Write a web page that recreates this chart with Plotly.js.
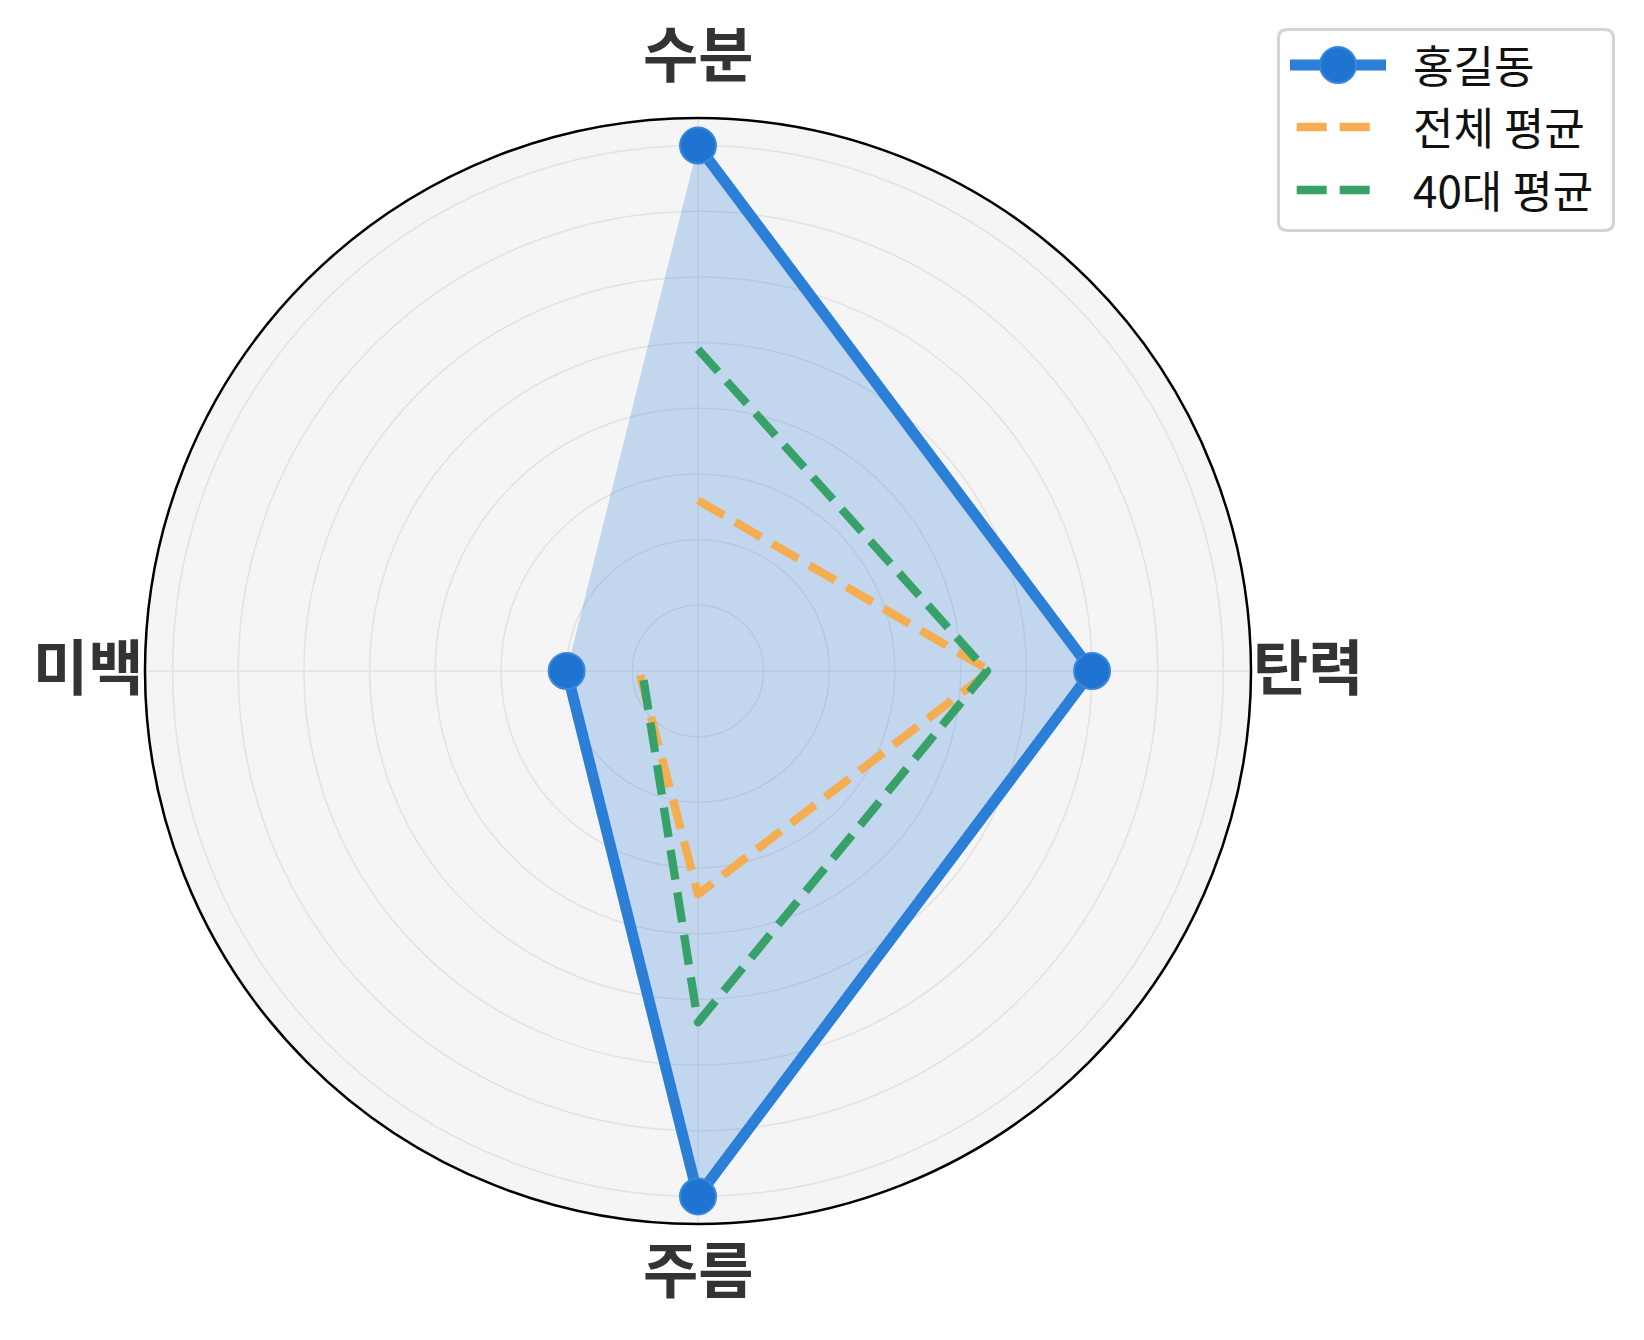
<!DOCTYPE html>
<html>
<head>
<meta charset="utf-8">
<script src="https://cdn.plot.ly/plotly-3.0.1.min.js"></script>
<style>
html, body { margin: 0; padding: 0; background: #ffffff; }
#chart { width: 1644px; height: 1340px; }
.scatterlayer .js-line { stroke-linejoin: round; }
</style>
</head>
<body>
<div id="chart"></div>
<script>
// ---- data ----
var categories = ['수분', '탄력', '주름', '미백'];
var seriesNames = ['홍길동', '전체 평균', '40대 평균'];
var hongValues = [80, 60, 80, 20];
var overallAvg = [26, 44.5, 34, 9];
var age40Avg = [49, 44, 53.5, 8.5];
var radialMax = 84.2;

// ---- style ----
var W = 1644, H = 1340;
var cx = 698, cy = 671, R = 553;
var blueLine = '#2B7FD6';
var blueMarker = '#1F74D2';
var orange = '#F5AD52';
var green = '#38A169';
var fontKR = '"Noto Sans CJK KR", "Noto Sans", sans-serif';

function px(x) { return x / W; }
function py(y) { return 1 - y / H; }

var traces = [
  {
    type: 'scatterpolar',
    r: hongValues,
    theta: categories,
    mode: 'lines',
    fill: 'toself',
    fillcolor: 'rgba(43,127,214,0.25)',
    line: { color: 'rgba(43,127,214,0.45)', width: 2.5 },
    showlegend: false,
    hoverinfo: 'skip'
  },
  {
    type: 'scatterpolar',
    name: seriesNames[1],
    r: overallAvg,
    theta: categories,
    mode: 'lines',
    line: { color: orange, width: 8.3, dash: '30px,13px' },
    showlegend: false,
    hoverinfo: 'skip'
  },
  {
    type: 'scatterpolar',
    name: seriesNames[2],
    r: age40Avg,
    theta: categories,
    mode: 'lines',
    line: { color: green, width: 8.3, dash: '30px,13px' },
    showlegend: false,
    hoverinfo: 'skip'
  },
  {
    type: 'scatterpolar',
    name: seriesNames[0],
    r: hongValues,
    theta: categories,
    mode: 'lines+markers',
    line: { color: blueLine, width: 11 },
    marker: { color: blueMarker, size: 36, line: { color: '#3A88DA', width: 2 } },
    showlegend: false,
    hoverinfo: 'skip'
  }
];

// ---- custom legend (matplotlib-like) ----
var lgX0 = 1278.5, lgX1 = 1613.5, lgY0 = 29.5, lgY1 = 230.5, rad = 9;
function roundRectPath(x0, y0, x1, y1, r) {
  var rx = r / W, ry = r / H;
  var X0 = px(x0), X1 = px(x1), Y0 = py(y0), Y1 = py(y1);
  return 'M' + (X0 + rx) + ',' + Y0 +
    ' L' + (X1 - rx) + ',' + Y0 +
    ' Q' + X1 + ',' + Y0 + ' ' + X1 + ',' + (Y0 - ry) +
    ' L' + X1 + ',' + (Y1 + ry) +
    ' Q' + X1 + ',' + Y1 + ' ' + (X1 - rx) + ',' + Y1 +
    ' L' + (X0 + rx) + ',' + Y1 +
    ' Q' + X0 + ',' + Y1 + ' ' + X0 + ',' + (Y1 + ry) +
    ' L' + X0 + ',' + (Y0 - ry) +
    ' Q' + X0 + ',' + Y0 + ' ' + (X0 + rx) + ',' + Y0 + ' Z';
}

var rowY = [65, 127, 190];
var shapes = [
  {
    type: 'path', xref: 'paper', yref: 'paper',
    path: roundRectPath(lgX0, lgY0, lgX1, lgY1, rad),
    fillcolor: 'rgba(255,255,255,0.8)',
    line: { color: '#D4D4D4', width: 3 },
    layer: 'above'
  },
  {
    type: 'line', xref: 'paper', yref: 'paper',
    x0: px(1290), x1: px(1386), y0: py(rowY[0]), y1: py(rowY[0]),
    line: { color: blueLine, width: 11 }, layer: 'above'
  },
  {
    type: 'circle', xref: 'paper', yref: 'paper',
    xsizemode: 'pixel', ysizemode: 'pixel',
    xanchor: px(1338), yanchor: py(rowY[0]),
    x0: -18, x1: 18, y0: -18, y1: 18,
    fillcolor: blueMarker, line: { color: '#3A88DA', width: 2 }, layer: 'above'
  },
  {
    type: 'line', xref: 'paper', yref: 'paper',
    x0: px(1296.7), x1: px(1371), y0: py(rowY[1]), y1: py(rowY[1]),
    line: { color: orange, width: 8.3, dash: '30px,13px' }, layer: 'above'
  },
  {
    type: 'line', xref: 'paper', yref: 'paper',
    x0: px(1296.7), x1: px(1371), y0: py(rowY[2]), y1: py(rowY[2]),
    line: { color: green, width: 8.3, dash: '30px,13px' }, layer: 'above'
  }
];

var annotations = seriesNames.map(function (name, i) {
  return {
    xref: 'paper', yref: 'paper',
    x: px(1411), y: py(rowY[i] - 1),
    xanchor: 'left', yanchor: 'middle',
    text: name, showarrow: false,
    font: { family: fontKR, size: 44, color: '#111111' }
  };
});

// angular category labels placed just outside the outer circle (clockwise from top)
var labelGap = [22, 0, -3, 0];
categories.forEach(function (cat, i) {
  var ang = (90 - i * 360 / categories.length) * Math.PI / 180;
  var c = Math.cos(ang), s = Math.sin(ang);
  var rr = R + labelGap[i];
  var lx = cx + rr * c, ly = cy - rr * s;
  var xa = Math.abs(c) < 0.1 ? 'center' : (c > 0 ? 'left' : 'right');
  var ya = Math.abs(s) < 0.1 ? 'middle' : (s > 0 ? 'bottom' : 'top');
  if (ya === 'middle') ly -= 8;
  annotations.push({
    xref: 'paper', yref: 'paper',
    x: px(lx), y: py(ly),
    xanchor: xa, yanchor: ya,
    text: cat, showarrow: false,
    font: { family: fontKR, size: 60, color: '#333333', weight: 'bold' }
  });
});

var layout = {
  width: W, height: H,
  margin: { l: 0, r: 0, t: 0, b: 0, pad: 0 },
  paper_bgcolor: '#ffffff',
  showlegend: false,
  polar: {
    domain: {
      x: [px(cx - R), px(cx + R)],
      y: [1 - (cy + R) / H, 1 - (cy - R) / H]
    },
    bgcolor: '#F5F5F5',
    radialaxis: {
      range: [0, radialMax],
      tick0: 0, dtick: 10,
      showticklabels: false,
      ticks: '',
      showline: false,
      gridcolor: '#E2E2E2',
      gridwidth: 1.5
    },
    angularaxis: {
      type: 'category',
      categoryorder: 'array',
      categoryarray: categories,
      direction: 'clockwise',
      rotation: 90,
      showline: true,
      linecolor: '#000000',
      linewidth: 2.5,
      gridcolor: '#E2E2E2',
      gridwidth: 1.5,
      ticks: '',
      showticklabels: false
    }
  },
  shapes: shapes,
  annotations: annotations
};

Plotly.newPlot('chart', traces, layout, { staticPlot: true, displayModeBar: false });
</script>
</body>
</html>
